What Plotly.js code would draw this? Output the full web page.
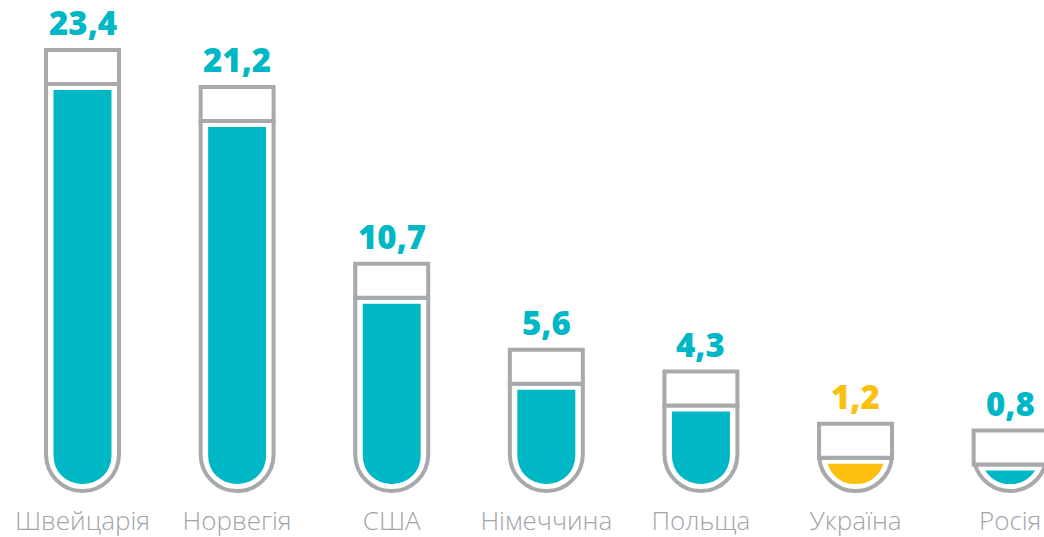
<!DOCTYPE html>
<html>
<head>
<meta charset="utf-8">
<script src="https://cdn.plot.ly/plotly-3.0.1.min.js"></script>
<style>html,body{margin:0;padding:0;background:#fff;}#chart{width:1044px;height:537px;}</style>
</head>
<body>
<div id="chart"></div>
<script>
// Data
const categories = ['Швейцарія', 'Норвегія', 'США', 'Німеччина', 'Польща', 'Україна', 'Росія'];
const values = [23.4, 21.2, 10.7, 5.6, 4.3, 1.2, 0.8];
const valueLabels = ['23,4', '21,2', '10,7', '5,6', '4,3', '1,2', '0,8'];
const highlight = 'Україна';

// Style constants (axis units). Bars hang downward from the top of the plot (0),
// so the liquid bottom of every tube sits at depth D.
const D = 28.74;          // depth of the liquid bottom line
const capGap = 0.356;     // gap between liquid top and cap line
const capHeight = 2.02;   // cap rectangle height
const bottomGap = 0.416;  // gap between liquid bottom and tube bottom
const TEAL = '#00B8C5', YELLOW = '#FDC010', GRAY = '#A7A9AC', LABEL = '#A3A5A8';
const TUBE_W = 0.472, LIQ_W = 0.375;

const fillColors = categories.map(c => c === highlight ? YELLOW : TEAL);

function spacer(lengths, xa, ya, w) {
  return {type: 'bar', x: categories, y: lengths.map(l => -l), width: w,
    xaxis: xa, yaxis: ya,
    marker: {color: 'rgba(0,0,0,0)', line: {width: 0}},
    hoverinfo: 'skip', showlegend: false};
}

// Tube body (subplot 1)
const tubeSpacer = spacer(values.map(v => D - v - capGap), 'x', 'y', TUBE_W);
const tube = {
  type: 'bar', x: categories,
  y: values.map(v => -(v + capGap + bottomGap)),
  width: TUBE_W, xaxis: 'x', yaxis: 'y',
  marker: {color: '#ffffff', line: {color: GRAY, width: 4}, cornerradius: '50%'},
  hoverinfo: 'skip', showlegend: false
};
// Liquid (subplot 2)
const liqSpacer = spacer(values.map(v => D - v), 'x2', 'y2', LIQ_W);
const liquid = {
  type: 'bar', x: categories,
  y: values.map(v => -v),
  width: LIQ_W, xaxis: 'x2', yaxis: 'y2',
  marker: {color: fillColors, line: {width: 0}, cornerradius: '50%'},
  hoverinfo: 'skip', showlegend: false
};
// Cap (subplot 3)
const capSpacer = spacer(values.map(v => D - v - capGap - capHeight), 'x3', 'y3', TUBE_W);
const cap = {
  type: 'bar', x: categories,
  y: values.map(() => -capHeight),
  width: TUBE_W, xaxis: 'x3', yaxis: 'y3',
  marker: {color: '#ffffff', line: {color: GRAY, width: 4}, cornerradius: 0},
  hoverinfo: 'skip', showlegend: false
};

const annotations = categories.map((c, i) => ({
  x: c, y: -(D - values[i] - capGap - capHeight),
  xref: 'x', yref: 'y',
  text: valueLabels[i], showarrow: false,
  yanchor: 'bottom', yshift: 4, borderpad: 0,
  font: {family: 'Open Sans, sans-serif', size: 33, weight: 800, color: fillColors[i]}
}));

const XR = [-0.5336, 6.219];
const YR = [-(D + 0.95), 0];
const hiddenX = {type: 'category', range: XR, visible: false, fixedrange: true};
const hiddenY = {range: YR, visible: false, fixedrange: true};

const layout = {
  width: 1044, height: 537,
  margin: {l: 0, r: 0, t: 0, b: 37},
  paper_bgcolor: '#ffffff', plot_bgcolor: 'rgba(0,0,0,0)',
  barmode: 'relative',
  showlegend: false,
  xaxis: {
    type: 'category', range: XR,
    showgrid: false, zeroline: false, showline: false, ticks: '',
    ticklabelstandoff: 3,
    tickfont: {family: 'Open Sans, sans-serif', size: 26, weight: 300, color: LABEL},
    fixedrange: true
  },
  yaxis: Object.assign({showgrid: false, zeroline: false}, hiddenY),
  xaxis2: Object.assign({overlaying: 'x'}, hiddenX),
  yaxis2: Object.assign({overlaying: 'y'}, hiddenY),
  xaxis3: Object.assign({overlaying: 'x'}, hiddenX),
  yaxis3: Object.assign({overlaying: 'y'}, hiddenY),
  annotations: annotations
};

Plotly.newPlot('chart', [tubeSpacer, tube, liqSpacer, liquid, capSpacer, cap], layout,
  {displayModeBar: false, staticPlot: true});
</script>
</body>
</html>
